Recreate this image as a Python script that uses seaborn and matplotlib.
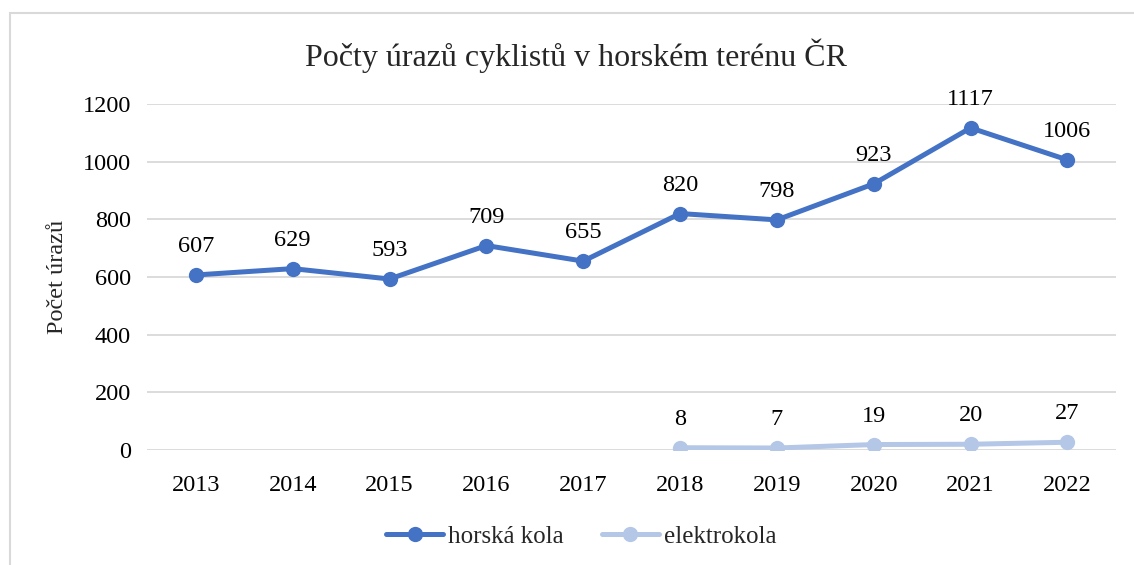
import pandas as pd
import matplotlib.pyplot as plt
import seaborn as sns
from matplotlib.patches import Rectangle

# pocty urazu cyklistu v horskem terenu CR
roky = [2013, 2014, 2015, 2016, 2017, 2018, 2019, 2020, 2021, 2022]
horska_kola = [607, 629, 593, 709, 655, 820, 798, 923, 1117, 1006]
roky_ekola = [2018, 2019, 2020, 2021, 2022]
elektrokola = [8, 7, 19, 20, 27]

df = pd.concat([
    pd.DataFrame({"rok": roky, "pocet": horska_kola, "typ": "horská kola"}),
    pd.DataFrame({"rok": roky_ekola, "pocet": elektrokola, "typ": "elektrokola"}),
], ignore_index=True)

barvy = {"horská kola": "#4472C4", "elektrokola": "#B4C7E7"}

sns.set_style("white")
plt.rcParams["font.family"] = ["Liberation Serif", "DejaVu Serif"]

fig = plt.figure(figsize=(11.34, 5.65), dpi=100)
ax = fig.add_axes([0.130, 0.2035, 0.854, 0.6125])

sns.lineplot(data=df, x="rok", y="pocet", hue="typ", palette=barvy,
             marker="o", markersize=11, markeredgewidth=0, linewidth=3.6,
             ax=ax, zorder=3)

# popisky hodnot nad body
for _, r in df.iterrows():
    ax.annotate(str(r["pocet"]), (r["rok"], r["pocet"]), xytext=(0, 16.5),
                textcoords="offset points", ha="center", va="baseline",
                fontsize=17.5, color="#000000")

ax.set_xlim(2012.5, 2022.5)
ax.set_ylim(0, 1200)
ax.set_xticks(roky)
ax.set_yticks(range(0, 1201, 200))
ax.tick_params(axis="both", labelsize=17.5, length=0, colors="#000000")
ax.tick_params(axis="x", pad=18)
ax.tick_params(axis="y", pad=12)
ax.grid(axis="y", color="#d9d9d9", linewidth=1.3)
for s in ax.spines.values():
    s.set_visible(False)

ax.set_xlabel("")
ax.set_ylabel("Počet úrazů", fontsize=17.5, labelpad=10)

# nadpis je v originale centrovany na cely obrazek, ne na osy
fig.text(576 / 1134, 1 - 66 / 565, "Počty úrazů cyklistů v horském terénu ČR",
         fontsize=23, ha="center", va="baseline")

ax.legend(loc="center", bbox_to_anchor=(0.448, -0.25), ncol=2,
          frameon=False, fontsize=18, handlelength=2.3, columnspacing=1.5,
          handletextpad=0.2)

# ramecek grafu
fig.patches.append(Rectangle((10 / 1134, -0.1), 1.2, 1 - 13 / 565 + 0.1,
                             transform=fig.transFigure, fill=False,
                             edgecolor="#d9d9d9", linewidth=1.5))

fig.savefig("out.png", dpi=100)
